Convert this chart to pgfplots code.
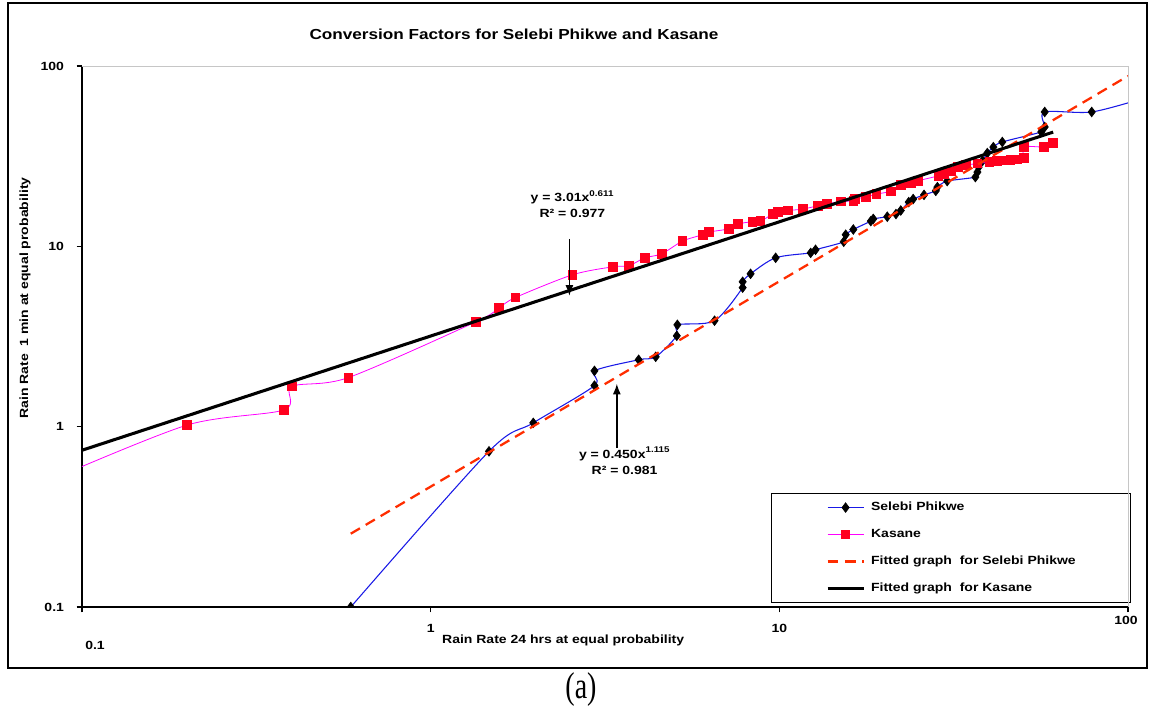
\documentclass[border=0pt]{standalone}
\usepackage{fontspec}
\setmainfont{Liberation Sans}[FakeStretch=1.18]
\newfontfamily\capfont{Liberation Serif}[FakeStretch=0.75]
\usepackage{pgfplots}
\pgfplotsset{compat=1.18}
\usetikzlibrary{arrows.meta}
\definecolor{sbblue}{RGB}{25,25,230}
\definecolor{kmag}{RGB}{255,0,255}
\definecolor{kred}{RGB}{255,0,30}
\definecolor{fitred}{RGB}{255,45,0}
\newcommand{\lf}{\fontsize{8.9}{12}\selectfont\bfseries}
\newcommand{\tf}{\fontsize{10.9}{13}\selectfont\bfseries}
\begin{document}
\begin{tikzpicture}[x=1pt,y=1pt]
\useasboundingbox (-61.5,-84) rectangle (800.25,455.25);
\draw[line width=1.4pt] (-55.5,-45.75) rectangle (798.75,453);
\begin{axis}[
  at={(0,0)}, anchor=south west,
  scale only axis, width=784.5pt, height=405.75pt,
  xmode=log, ymode=log,
  xmin=0.1, xmax=100, ymin=0.1, ymax=100,
  axis lines=left, axis line style={-, line width=1.2pt},
  xminorticks=false, yminorticks=false,
  xtick={0.1,1,10,100}, ytick={0.1,1,10,100},
  xticklabels={{},1,10,{}},
  yticklabels={0.1,1,10,100},
  /pgf/number format/assume math mode=true,
  tick align=outside, major tick length=4pt,
  tick style={black, line width=0.8pt},
  tick label style={font=\lf},
  xticklabel style={yshift=-5.5pt},
  yticklabel style={xshift=-6pt},
  title={Conversion Factors for Selebi Phikwe and Kasane},
  title style={font=\tf, at={(axis description cs:0.413,1.044)}, anchor=center},
  xlabel={Rain Rate 24 hrs at equal probability},
  xlabel style={font=\lf, at={(axis description cs:0.46,-0.061)}, anchor=center},
  ylabel={Rain Rate \ 1 min at equal probability},
  ylabel style={font=\lf, at={(axis description cs:-0.0545,0.571)}, anchor=center},
  clip marker paths=true,
  legend image code/.code={\draw[mark repeat=2,mark phase=2,#1] plot coordinates {(0pt,0pt) (13.5pt,0pt) (27pt,0pt)};},
  legend cell align=left,
  legend style={at={(1.003,0.211)}, anchor=north east, draw=black, line width=1.1pt,
    font=\lf, inner xsep=41pt, inner ysep=6pt, row sep=11.25pt, column sep=4.5pt,
    nodes={inner sep=0pt, text height=7pt, text depth=2pt}},
]
\addplot[sbblue, line width=0.8pt, smooth, tension=0.5, mark=diamond*, mark size=3.6pt,
  mark options={solid, fill=black, draw=black, line width=0.5pt}] table {
x y
0.59 0.1
1.47 0.73
1.97 1.05
2.95 1.69
2.95 2.04
3.95 2.35
4.42 2.44
5.08 3.19
5.10 3.67
6.52 3.87
7.85 5.9
7.85 6.36
8.27 7.04
9.76 8.64
12.3 9.2
12.7 9.57
15.3 10.6
15.5 11.6
16.3 12.4
18.3 13.8
18.6 14.2
20.4 14.6
21.6 15.1
22.3 15.8
23.5 17.6
24.2 18.3
26.0 19.3
28.1 20.3
28.4 21.3
30.3 23.0
36.5 24.2
37.0 25.8
37.3 27.5
38.3 29.8
39.5 32.9
41.1 35.5
43.6 37.9
56.4 43.1
57.7 45.9
57.7 55.6
78.7 55.6
110 66
};
\addlegendentry{Selebi Phikwe}
\addplot[kmag, line width=0.6pt, smooth, tension=0.5, mark=square*, mark size=3.2pt,
  mark options={solid, fill=kred, draw=kred}] table {
x y
0.08 0.50
0.2 1.02
0.38 1.24
0.40 1.67
0.58 1.87
1.35 3.82
1.57 4.56
1.75 5.2
2.55 6.95
3.33 7.7
3.70 7.8
4.11 8.63
4.6 9.09
5.28 10.7
6.03 11.6
6.27 12.0
7.16 12.5
7.6 13.3
8.38 13.7
8.83 13.8
9.57 15.1
9.9 15.5
10.6 15.8
11.7 16.1
12.9 16.8
13.7 17.2
15.0 17.7
16.3 17.9
16.5 18.3
17.7 18.8
19.0 19.5
20.9 20.2
22.3 21.9
23.8 22.4
25.0 23.1
28.6 24.6
29.7 25.3
31.0 26.1
32.5 27.5
34.3 28.2
37.0 28.8
40.0 29.3
42.0 29.7
44.0 29.9
46.0 30.1
48.0 30.4
50.2 31.0
50.2 35.6
57.3 35.6
60.8 37.5
};
\addlegendentry{Kasane}
\addplot[fitred, line width=1.7pt, dash pattern=on 8pt off 5pt] coordinates {(0.59,0.255) (100,88)};
\addlegendentry{Fitted graph \ for Selebi Phikwe}
\addplot[black, line width=2.3pt] coordinates {(0.1,0.74) (61,43)};
\addlegendentry{Fitted graph \ for Kasane}
\node[font=\lf, align=center] at (axis cs:2.55,17.2) {y = 3.01x\textsuperscript{0.611}\\R² = 0.977};
\node[font=\lf, align=center] at (axis cs:3.6,0.648) {y = 0.450x\textsuperscript{1.115}\\R² = 0.981};
\draw[line width=1pt, -{Latex[length=8pt,width=6pt]}] (axis cs:2.5,11.0) -- (axis cs:2.5,5.32);
\draw[line width=1pt, -{Latex[length=8pt,width=6pt]}] (axis cs:3.42,0.76) -- (axis cs:3.42,1.73);
\end{axis}
\draw[gray!45, line width=0.6pt] (0,405.75) -- (784.5,405.75) -- (784.5,0);
\node[font=\lf] at (9.75,-28.5) {0.1};
\node[font=\lf] at (783,-9.75) {100};
\node[font=\capfont\fontsize{28}{30}\selectfont] at (374.25,-62.25) {(a)};
\end{tikzpicture}
\end{document}
